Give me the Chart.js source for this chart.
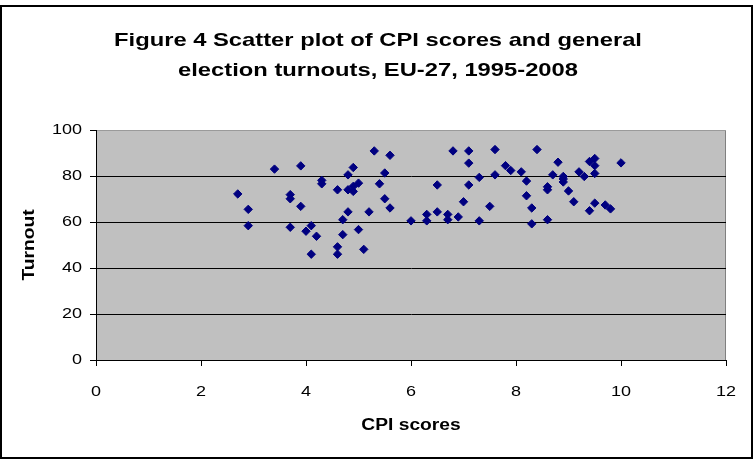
<!DOCTYPE html>
<html>
<head>
<meta charset="utf-8">
<script src="https://cdn.jsdelivr.net/npm/chart.js@4/dist/chart.umd.min.js"></script>
<style>
  html, body { margin: 0; padding: 0; background: #fff; }
  #wrap { position: relative; width: 756px; height: 462px; }
  #frame { position: absolute; left: 0; top: 5px; width: 753px; height: 454px; box-sizing: border-box; border: 2px solid #000; pointer-events: none; }
  canvas { position: absolute; left: 0; top: 0; }
</style>
</head>
<body>
<div id="wrap">
  <canvas id="c" width="756" height="462"></canvas>
  <div id="frame"></div>
</div>
<script>
// ---- data ----
const cpiScores = [
  2.7, 2.9, 2.9, 3.4, 3.9, 3.7, 3.7, 3.9, 3.7, 4.3, 4.3, 4.1, 4.0, 4.2, 4.1,
  4.6, 4.6, 4.6, 4.8, 4.9, 4.8, 4.9, 4.9, 5.0, 4.8, 4.7, 4.7, 5.0, 5.1, 5.2,
  5.3, 5.6, 5.5, 5.4, 5.5, 5.6, 6.0,
  6.3, 6.3, 6.5, 6.5, 6.7, 6.7, 6.9, 6.8, 7.1, 7.1, 7.1, 7.0, 7.3, 7.3,
  7.6, 7.6, 7.5, 7.8, 7.9, 8.1, 8.2, 8.2, 8.3, 8.3, 8.4, 8.6, 8.6, 8.6,
  8.7, 8.8, 8.9, 8.9, 8.9, 9.0, 9.1, 9.2, 9.3, 9.4, 9.5, 9.5, 9.5, 9.5,
  9.4, 9.7, 9.8, 10.0
];
const turnouts = [
  72.2, 65.5, 58.4, 83.0, 84.4, 71.9, 70.1, 66.8, 57.7, 78.1, 76.6, 58.4, 56.0, 53.8, 46.0,
  74.0, 49.2, 46.0, 80.5, 83.7, 74.0, 73.3, 75.5, 76.9, 64.4, 61.0, 54.5, 56.7, 48.1, 64.4,
  90.9, 89.0, 81.3, 76.6, 70.1, 66.1, 60.5,
  63.3, 60.5, 64.4, 76.1, 63.3, 61.0, 62.2, 90.9, 90.9, 85.6, 76.1, 68.8, 79.4, 60.5,
  91.5, 80.5, 66.8, 84.5, 82.4, 81.8, 77.8, 71.4, 66.1, 59.2, 91.5, 61.0, 75.3, 74.0,
  80.5, 86.0, 79.8, 78.7, 77.4, 73.5, 68.8, 81.8, 79.8, 86.3, 87.6, 84.5, 81.1, 68.2,
  64.9, 67.4, 65.7, 85.7
];
const xTicks = [0, 2, 4, 6, 8, 10, 12];
const yTicks = [0, 20, 40, 60, 80, 100];
const titleLines = ['Figure 4 Scatter plot of CPI scores and general', 'election turnouts, EU-27, 1995-2008'];
const xTitle = 'CPI scores';
const yTitle = 'Turnout';

const points = cpiScores.map((x, i) => ({ x: x, y: turnouts[i] }));

const FONT = '"Liberation Sans", Arial, sans-serif';

// the reference text is rendered horizontally widened
function stretchFor(text) {
  if (titleLines.includes(text)) return 1.25;
  return 1.2;
}

const plotBg = {
  id: 'plotBg',
  beforeInit(chart) {
    const ctx = chart.ctx;
    if (!ctx.__patched) {
      const orig = ctx.fillText;
      ctx.fillText = function (text, x, y, mw) {
        const s = stretchFor(String(text));
        this.save();
        this.translate(x, y);
        this.scale(s, 1);
        orig.call(this, text, 0, 0);
        this.restore();
      };
      ctx.__patched = true;
    }
  },
  beforeDraw(chart) {
    const ctx = chart.ctx;
    const a = chart.chartArea;
    ctx.save();
    ctx.fillStyle = '#c0c0c0';
    ctx.fillRect(a.left, a.top, a.right - a.left, a.bottom - a.top);
    ctx.strokeStyle = '#808080';
    ctx.lineWidth = 1;
    ctx.strokeRect(a.left + 0.5, a.top + 0.5, a.right - a.left - 1, a.bottom - a.top);
    ctx.restore();
  }
};

new Chart(document.getElementById('c'), {
  type: 'scatter',
  data: {
    datasets: [{
      data: points,
      xAxisID: 'x',
      yAxisID: 'y',
      pointStyle: 'rectRot',
      pointRadius: 4.2,
      pointBorderWidth: 1,
      backgroundColor: '#000080',
      borderColor: '#000080'
    }]
  },
  options: {
    responsive: false,
    animation: false,
    layout: { padding: 0 },
    plugins: {
      legend: { display: false },
      tooltip: { enabled: false },
      title: {
        display: true,
        text: titleLines,
        color: '#000',
        font: { family: FONT, size: 19, weight: 'bold', lineHeight: '30px' },
        padding: { top: 25.5, bottom: 44.5 }
      }
    },
    scales: {
      x: {
        type: 'linear',
        position: 'bottom',
        min: 0, max: 12,
        afterBuildTicks(scale) { scale.ticks = xTicks.map(v => ({ value: v })); },
        afterFit(scale) { scale.height = 102; },
        ticks: { color: '#000', font: { family: FONT, size: 15 }, padding: 17, maxRotation: 0 },
        grid: { drawOnChartArea: false, drawTicks: true, tickLength: 6, tickColor: '#000', color: '#000' },
        border: { display: true, color: '#000', width: 1 },
        title: {
          display: true, text: xTitle, color: '#000',
          font: { family: FONT, size: 16, weight: 'bold' },
          padding: { top: 0, bottom: 27 }
        }
      },
      y: {
        type: 'linear',
        position: 'left',
        min: 0, max: 100,
        afterBuildTicks(scale) { scale.ticks = yTicks.map(v => ({ value: v })); },
        afterFit(scale) { scale.width = 96; },
        ticks: { color: '#000', font: { family: FONT, size: 15 }, padding: 8 },
        grid: {
          drawOnChartArea: true, drawTicks: true, tickLength: 6, tickColor: '#000',
          color: (c) => (c.tick && c.tick.value === 100 ? '#9a9a9a' : '#000'),
          lineWidth: 1
        },
        border: { display: true, color: '#000', width: 1 },
        title: {
          display: true, text: yTitle, color: '#000',
          font: { family: FONT, size: 16, weight: 'bold' },
          padding: { top: 20, bottom: 0 }
        }
      },
      spacerRight: {
        type: 'linear',
        position: 'right',
        display: true,
        min: 0, max: 100,
        afterFit(scale) { scale.width = 30; },
        ticks: { display: false },
        grid: { display: false, drawTicks: false },
        border: { display: false },
        title: { display: false }
      }
    }
  },
  plugins: [plotBg]
});
</script>
</body>
</html>
